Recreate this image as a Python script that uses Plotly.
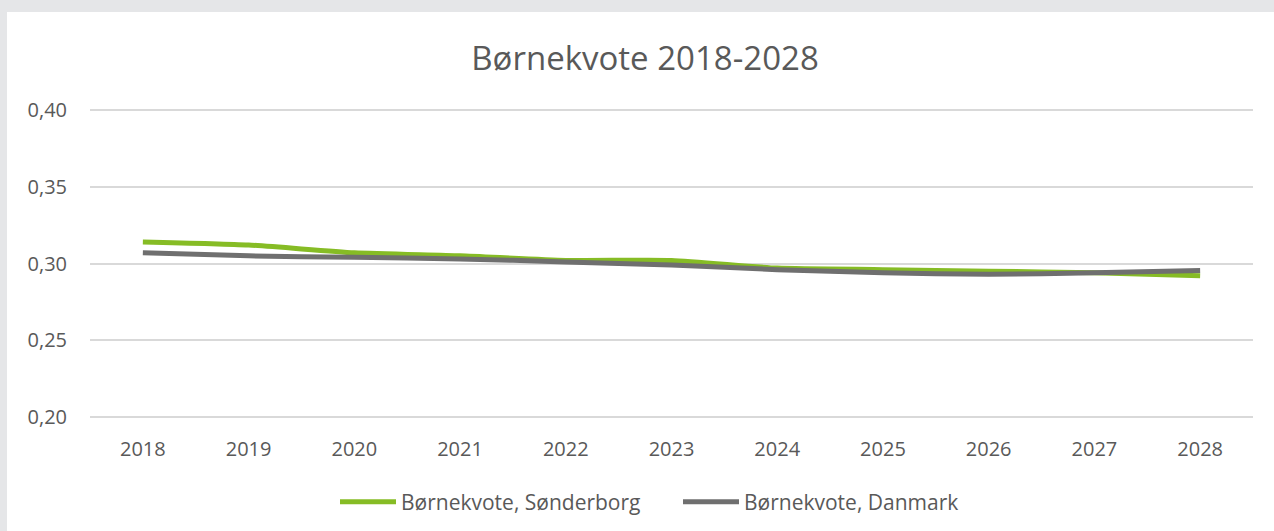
import plotly.graph_objects as go

years = ["2018", "2019", "2020", "2021", "2022", "2023", "2024", "2025", "2026", "2027", "2028"]
soenderborg = [0.314, 0.312, 0.307, 0.305, 0.302, 0.302, 0.297, 0.296, 0.295, 0.294, 0.292]
danmark = [0.307, 0.305, 0.304, 0.303, 0.301, 0.299, 0.296, 0.294, 0.293, 0.294, 0.2955]
y_ticks = [0.20, 0.25, 0.30, 0.35, 0.40]

TEXT = "#595959"
FONT = "Open Sans"

fig = go.Figure()
fig.add_trace(go.Scatter(
    x=years, y=soenderborg, mode="lines", name="Børnekvote, Sønderborg",
    line=dict(color="#86bc25", width=5, shape="spline", smoothing=0.6),
))
fig.add_trace(go.Scatter(
    x=years, y=danmark, mode="lines", name="Børnekvote, Danmark",
    line=dict(color="#6f6f6f", width=5, shape="spline", smoothing=0.6),
))

PT, PB = 102, 425
PH = PB - PT
fig.update_layout(
    width=1274, height=531,
    margin=dict(l=90, r=21, t=PT, b=531 - PB),
    paper_bgcolor="#e5e6e8",
    plot_bgcolor="rgba(0,0,0,0)",
    separators=",.",
    font=dict(family=FONT, color=TEXT, size=20),
    title=dict(text="Børnekvote 2018-2028", x=645 / 1274, xanchor="center",
               y=1 - 58 / 531, yanchor="middle",
               font=dict(family=FONT, size=33, color=TEXT)),
    showlegend=True,
    legend=dict(orientation="h", x=(335 - 90) / 1163, xanchor="left",
                yref="container", y=1 - 502 / 531, yanchor="middle",
                font=dict(family=FONT, size=21, color=TEXT), bgcolor="rgba(0,0,0,0)",
                itemwidth=56, entrywidth=272, entrywidthmode="pixels"),
    shapes=[dict(type="rect", xref="paper", yref="paper",
                 x0=(7 - 90) / 1163, x1=1.2, y0=-0.6, y1=(PB - 12) / PH,
                 fillcolor="white", line=dict(width=0), layer="below")],
)
fig.update_xaxes(type="category", range=[-0.5, 10.5], showgrid=False, showline=False,
                 zeroline=False, ticks="", ticklabelstandoff=10,
                 tickfont=dict(family=FONT, size=20, color=TEXT))
fig.update_yaxes(range=[0.195, 0.405], tickvals=y_ticks, tickformat=".2f",
                 showgrid=True, gridcolor="#d9d9d9", gridwidth=2, showline=False,
                 zeroline=False, ticks="", ticklabelstandoff=22,
                 tickfont=dict(family=FONT, size=20, color=TEXT))

fig.write_html("out.html", config={"displayModeBar": False},
               post_script="document.body.style.margin='0';document.body.style.overflow='hidden';")
